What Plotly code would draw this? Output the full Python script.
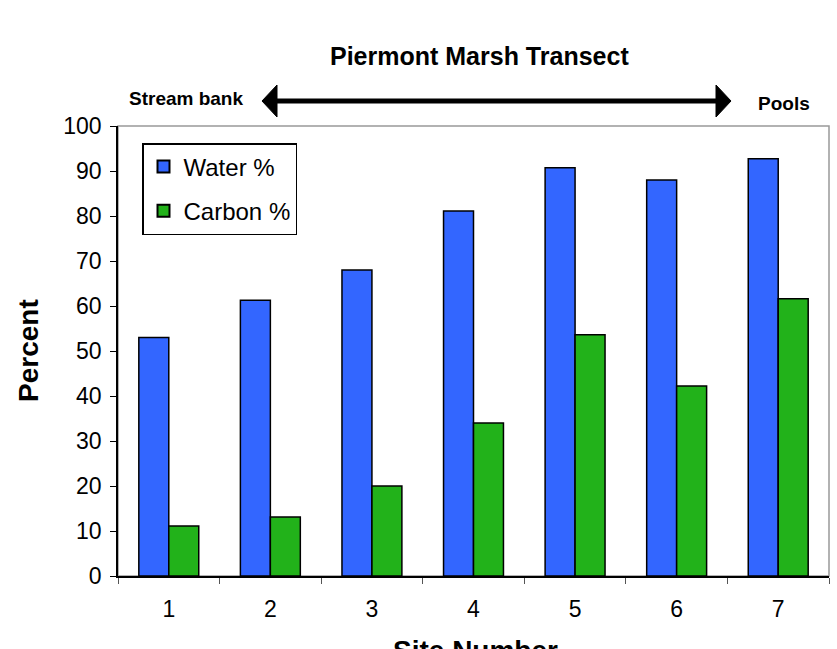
import plotly.graph_objects as go

sites = ["1", "2", "3", "4", "5", "6", "7"]
water = [53, 61.3, 68, 81.1, 90.7, 88, 92.7]
carbon = [11.1, 13.1, 20, 34, 53.6, 42.2, 61.6]
y_ticks = [0, 10, 20, 30, 40, 50, 60, 70, 80, 90, 100]

FONT = "Liberation Sans, Arial, sans-serif"
W, H = 837, 649
L, R, T, B = 118, 8, 126, 73
PW, PH = W - L - R, H - T - B


def px(x):
    return (x - L) / PW


def py(y):
    return (H - B - y) / PH


fig = go.Figure()
fig.add_trace(go.Bar(x=sites, y=water, name="Water %", legendgroup="w",
                     marker=dict(color="#3366FF", line=dict(color="black", width=1.5))))
fig.add_trace(go.Bar(x=sites, y=carbon, name="Carbon %", legendgroup="c",
                     marker=dict(color="#22B21A", line=dict(color="black", width=1.5))))

shapes = [
    # gray frame (top/right)
    dict(type="rect", xref="paper", yref="paper", x0=0, x1=1, y0=0, y1=1,
         line=dict(color="#999999", width=1.5), layer="below"),
    # arrow shaft
    dict(type="line", xref="paper", yref="paper", x0=px(272), x1=px(720), y0=py(101), y1=py(101),
         line=dict(color="black", width=5)),
    # left head
    dict(type="path", xref="paper", yref="paper",
         path=f"M {px(262)} {py(101)} L {px(277)} {py(85)} L {px(277)} {py(117)} Z",
         fillcolor="black", line=dict(color="black", width=1)),
    # right head
    dict(type="path", xref="paper", yref="paper",
         path=f"M {px(731)} {py(101)} L {px(716)} {py(85)} L {px(716)} {py(117)} Z",
         fillcolor="black", line=dict(color="black", width=1)),
]

annotations = [
    dict(text="<b>Piermont Marsh Transect</b>", xref="paper", yref="paper", x=px(479), y=py(56),
         xanchor="center", yanchor="middle", showarrow=False, font=dict(size=25, color="black", family=FONT)),
    dict(text="<b>Stream bank</b>", xref="paper", yref="paper", x=px(127), y=py(98),
         xanchor="left", yanchor="middle", showarrow=False, font=dict(size=19, color="black", family=FONT)),
    dict(text="<b>Pools</b>", xref="paper", yref="paper", x=px(756), y=py(103),
         xanchor="left", yanchor="middle", showarrow=False, font=dict(size=19, color="black", family=FONT)),
    dict(text="<b>Percent</b>", xref="paper", yref="paper", x=px(28), y=py(351),
         xanchor="center", yanchor="middle", textangle=-90, showarrow=False,
         font=dict(size=28, color="black", family=FONT)),
    dict(text="<b>Site Number</b>", xref="paper", yref="paper", x=px(475), y=py(633),
         xanchor="center", yanchor="top", showarrow=False, font=dict(size=28, color="black", family=FONT)),
]

fig.update_layout(
    width=W, height=H,
    margin=dict(l=L, r=R, t=T, b=B, pad=0),
    paper_bgcolor="white", plot_bgcolor="white",
    font=dict(family=FONT, color="black", size=23),
    barmode="group", bargap=0.41, bargroupgap=0,
    showlegend=True,
    legend=dict(x=px(142), y=py(143), xanchor="left", yanchor="top",
                bgcolor="white", bordercolor="black", borderwidth=1.5,
                font=dict(size=24, family=FONT), tracegroupgap=10,
                itemsizing="constant"),
    shapes=shapes,
    annotations=annotations,
)
fig.update_xaxes(type="category", showgrid=False, showline=True, linecolor="black", linewidth=1.5,
                 ticks="outside", ticklen=6, tickcolor="#555555", tickson="boundaries",
                 ticklabelstandoff=12, tickfont=dict(size=23))
fig.update_yaxes(range=[0, 100], tickvals=y_ticks, showgrid=False, zeroline=False,
                 showline=True, linecolor="black", linewidth=1.5,
                 ticks="outside", ticklen=6, tickcolor="black", tickfont=dict(size=23),
                 ticklabelstandoff=4)

fig.write_html("out.html")
